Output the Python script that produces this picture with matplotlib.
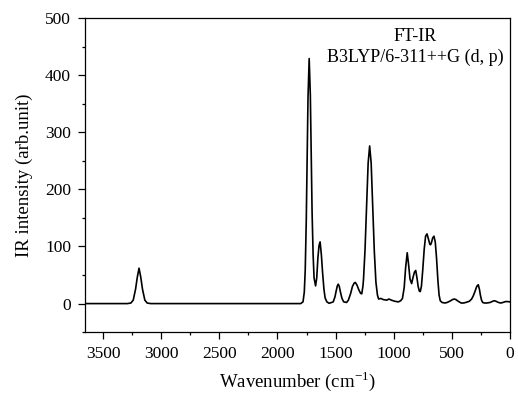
import matplotlib
matplotlib.use("Agg")
import matplotlib.pyplot as plt
from matplotlib.ticker import MultipleLocator

plt.rcParams['font.family'] = ['Liberation Serif', 'DejaVu Serif']
plt.rcParams['mathtext.fontset'] = 'custom'
plt.rcParams['mathtext.rm'] = 'Liberation Serif'

# Traced spectrum (wavenumber cm^-1, IR intensity)
wavenumber = [3655, 3400, 3290, 3260, 3240, 3220, 3205, 3190, 3175, 3160, 3140, 3120, 3090,
              2500, 1850, 1800, 1780, 1769, 1761, 1752, 1744, 1737, 1727, 1717, 1710, 1702,
              1693, 1685, 1672, 1662, 1652, 1642, 1633, 1622, 1612, 1600, 1590, 1575, 1555,
              1520, 1505, 1495, 1485, 1477, 1468, 1458, 1445, 1430, 1405, 1390, 1370, 1355,
              1340, 1330, 1315, 1300, 1285, 1275, 1265, 1260, 1247, 1234, 1220, 1207, 1194,
              1180, 1167, 1153, 1140, 1130, 1110, 1090, 1060, 1041, 1020, 990, 960, 940, 925,
              910, 898, 884, 872, 860, 846, 835, 822, 811, 800, 790, 780, 772, 762, 750, 738,
              726, 714, 700, 690, 683, 675, 665, 654, 643, 632, 620, 610, 600, 585, 560, 540,
              510, 495, 479, 465, 445, 420, 400, 380, 350, 330, 315, 300, 290, 283, 273, 263,
              255, 245, 235, 220, 200, 170, 150, 135, 120, 100, 80, 60, 40, 20, 0]
intensity = [0, 0, 0, 1, 6, 25, 46, 62, 46, 25, 6, 1, 0,
             0, 0, 0, 3, 20, 58, 145, 260, 361, 429, 365, 265, 160,
             85, 45, 31, 45, 80, 102, 108, 85, 55, 25, 10, 3, 0.5,
             3, 12, 22, 31, 34, 30, 20, 9, 3, 2, 6, 18, 30,
             36, 37, 32, 24, 18, 17, 30, 42, 93, 168, 246, 276, 246,
             168, 92, 37, 15, 8, 9, 7, 6, 8, 6, 4, 3, 5, 9,
             28, 62, 89, 68, 43, 35, 45, 55, 58, 45, 30, 22, 21, 30, 60, 95,
             118, 122, 112, 104, 103, 107, 115, 118, 108, 80, 40, 15, 5, 2, 1, 2,
             5, 7, 8, 7, 4, 1, 1, 2, 4, 8, 14, 22, 28, 31, 33, 25,
             15, 6, 2, 1, 1, 2, 4, 5, 4, 2, 1, 2, 3.5, 3.5, 3]

x_ticks = [3500, 3000, 2500, 2000, 1500, 1000, 500, 0]
y_ticks = [0, 100, 200, 300, 400, 500]

fig = plt.figure(figsize=(5.18, 3.94), dpi=100)
ax = fig.add_axes([0.164, 0.157, 0.8206, 0.7973])
ax.plot(wavenumber, intensity, color='black', lw=1.2)

ax.set_xlim(3655, 0)
ax.set_ylim(-50, 500)
ax.set_xticks(x_ticks)
ax.set_yticks(y_ticks)
ax.xaxis.set_minor_locator(MultipleLocator(250))
ax.yaxis.set_minor_locator(MultipleLocator(50))
ax.tick_params(which='major', direction='out', length=5, width=0.9, labelsize=12.5, pad=5,
               top=False, right=False)
ax.tick_params(which='minor', direction='out', length=2.5, width=0.9, top=False, right=False)
for s in ax.spines.values():
    s.set_linewidth(0.9)

ax.set_xlabel(r'Wavenumber (cm$^{-1}$)', fontsize=13.5, labelpad=5)
ax.set_ylabel('IR intensity (arb.unit)', fontsize=13.5, labelpad=9)

ax.text(0.777, 0.968, 'FT-IR\nB3LYP/6-311++G (d, p)', transform=ax.transAxes,
        ha='center', va='top', fontsize=13, linespacing=1.3)

fig.savefig('out.png', dpi=100)
